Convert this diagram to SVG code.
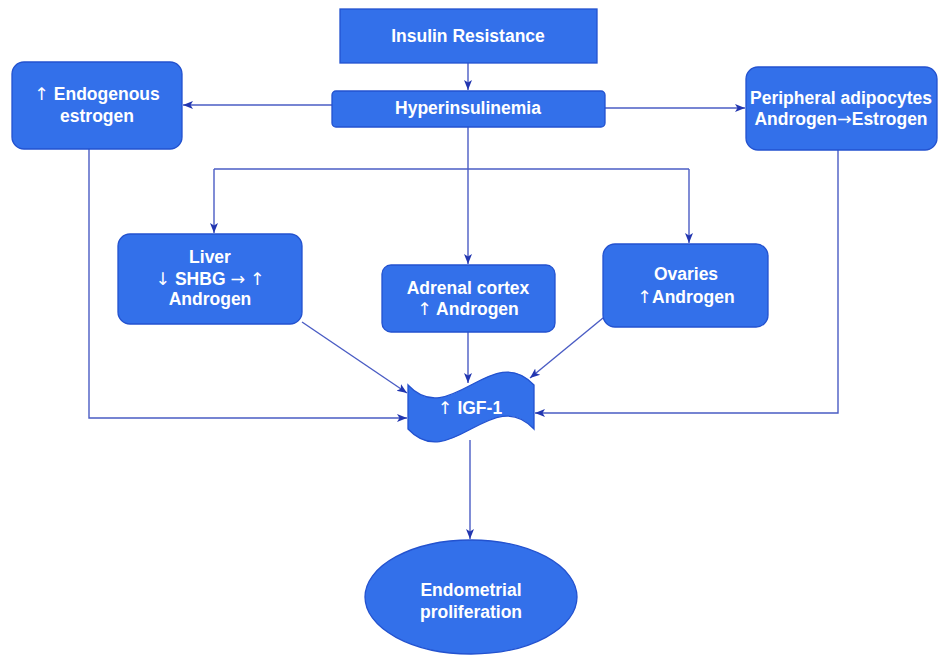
<svg xmlns="http://www.w3.org/2000/svg" width="938" height="657" viewBox="0 0 938 657">
<defs>
<marker id="arr" markerUnits="userSpaceOnUse" markerWidth="10" markerHeight="10" viewBox="0 0 10 10" refX="10" refY="5" orient="auto">
<path d="M0,1 L10,5 L0,9 L2.5,5 Z" fill="#2236b0"/>
</marker>
<style>
.box{fill:#3370ea;stroke:#2352cf;stroke-width:1.3}
.t{font-family:"Liberation Sans",Arial,sans-serif;font-weight:bold;font-size:17.5px;fill:#ffffff;text-anchor:middle}
.a{font-family:"DejaVu Sans",sans-serif;font-weight:normal}
.c{fill:none;stroke:#4a5cc4;stroke-width:1.4}
.ca{fill:none;stroke:#4a5cc4;stroke-width:1.4;marker-end:url(#arr)}
</style>
</defs>
<rect width="938" height="657" fill="#ffffff"/>
<g id="connectors">
<path class="ca" d="M468,63 V90"/>
<path class="ca" d="M332,105 H183"/>
<path class="ca" d="M605,108 H745"/>
<path class="c" d="M468,127 V169"/>
<path class="ca" d="M468,169 V264"/>
<path class="c" d="M214,169 H689"/>
<path class="ca" d="M214,169 V233"/>
<path class="ca" d="M689,169 V243"/>
<path class="ca" d="M89,149 V418 H407"/>
<path class="ca" d="M838,150 V413 H535"/>
<path class="ca" d="M302,322 L407,393"/>
<path class="ca" d="M468,332 V383"/>
<path class="ca" d="M603,318 L530,378"/>
<path class="ca" d="M470,440 V539"/>
</g>
<g id="insulin-resistance">
<rect class="box" x="340" y="9" width="257" height="54"/>
<text class="t" x="468" y="42">Insulin Resistance</text>
</g>
<g id="hyperinsulinemia">
<rect class="box" x="332" y="91" width="273" height="36" rx="4"/>
<text class="t" x="468" y="114">Hyperinsulinemia</text>
</g>
<g id="endogenous-estrogen">
<rect class="box" x="12" y="62" width="170" height="87" rx="12"/>
<text class="t" x="97" y="100"><tspan class="a">↑</tspan> Endogenous</text>
<text class="t" x="97" y="122">estrogen</text>
</g>
<g id="peripheral-adipocytes">
<rect class="box" x="746" y="67" width="191" height="83" rx="12"/>
<text class="t" x="841" y="104">Peripheral adipocytes</text>
<text class="t" x="841" y="125">Androgen<tspan class="a">→</tspan>Estrogen</text>
</g>
<g id="liver">
<rect class="box" x="118" y="234" width="184" height="90" rx="12"/>
<text class="t" x="210" y="263">Liver</text>
<text class="t" x="210" y="285"><tspan class="a">↓</tspan> SHBG <tspan class="a">→</tspan> <tspan class="a">↑</tspan></text>
<text class="t" x="210" y="305">Androgen</text>
</g>
<g id="adrenal-cortex">
<rect class="box" x="382" y="265" width="173" height="67" rx="9"/>
<text class="t" x="468" y="294">Adrenal cortex</text>
<text class="t" x="468" y="315"><tspan class="a">↑</tspan> Androgen</text>
</g>
<g id="ovaries">
<rect class="box" x="603" y="244" width="165" height="83" rx="12"/>
<text class="t" x="686" y="280">Ovaries</text>
<text class="t" x="686" y="303"><tspan class="a">↑</tspan>Androgen</text>
</g>
<g id="igf-1">
<path class="box" d="M408,385 C450,430 492,340 534,385 V429 C492,384 450,474 408,429 Z"/>
<text class="t" x="470" y="414"><tspan class="a">↑</tspan> IGF-1</text>
</g>
<g id="endometrial-proliferation">
<ellipse class="box" cx="471" cy="597" rx="106" ry="57"/>
<text class="t" x="471" y="596">Endometrial</text>
<text class="t" x="471" y="618">proliferation</text>
</g>
</svg>
